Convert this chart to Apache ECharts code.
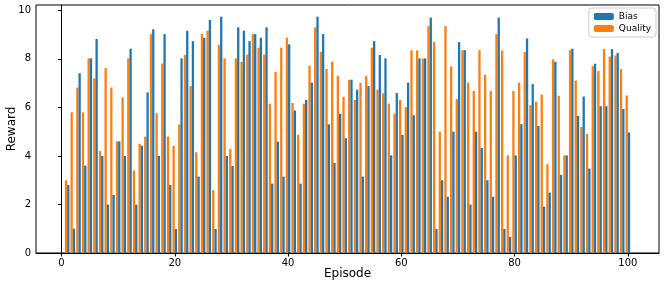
<!DOCTYPE html>
<html><head><meta charset="utf-8">
<script src="https://cdn.jsdelivr.net/npm/echarts@6/dist/echarts.min.js"></script>
<style>html,body{margin:0;padding:0;background:#fff}#c{width:665px;height:287px}</style>
</head><body><div id="c"></div>
<script>
const episodes = [1,2,3,4,5,6,7,8,9,10,11,12,13,14,15,16,17,18,19,20,21,22,23,24,25,26,27,28,29,30,31,32,33,34,35,36,37,38,39,40,41,42,43,44,45,46,47,48,49,50,51,52,53,54,55,56,57,58,59,60,61,62,63,64,65,66,67,68,69,70,71,72,73,74,75,76,77,78,79,80,81,82,83,84,85,86,87,88,89,90,91,92,93,94,95,96,97,98,99,100];
const bias = [2.8,1.0,7.41,3.6,8.02,8.82,4.0,2.0,2.39,4.6,
  4.0,8.42,2.0,4.42,6.62,9.22,4.0,9.02,2.8,0.99,
  8.02,9.16,8.73,3.15,8.87,9.6,0.99,9.74,4.0,3.59,
  9.3,9.16,8.73,9.02,8.87,9.3,2.86,4.59,3.15,8.6,
  5.87,2.86,6.31,7.02,9.74,9.02,5.3,3.71,5.74,4.73,
  7.14,6.73,3.15,6.88,8.73,8.16,8.02,4.02,6.59,4.87,
  7.02,5.68,8.02,8.02,9.7,0.99,3.0,2.32,5.0,8.69,
  8.36,2.0,5.0,4.33,3.0,2.32,9.7,0.99,0.66,4.02,
  5.31,8.84,6.96,5.23,1.91,2.49,7.88,3.22,4.02,8.42,
  5.65,6.45,3.48,7.8,6.05,6.05,8.4,8.24,5.93,4.97];
const quality = [3.0,5.8,6.82,5.8,8.02,7.2,4.2,7.62,6.82,4.6,
  6.41,8.02,3.4,4.5,4.8,9.02,5.76,7.81,4.8,4.42,
  5.3,8.16,6.88,4.15,9.02,9.16,2.59,8.58,8.02,4.29,
  8.02,7.88,8.17,9.02,8.46,8.17,6.15,7.46,8.46,8.87,
  6.18,4.87,6.15,7.72,9.3,8.29,7.58,7.88,7.3,6.44,
  7.14,6.31,7.02,7.29,8.46,6.73,6.58,6.16,5.74,6.31,
  6.01,8.35,8.35,8.02,9.35,8.69,5.0,9.35,7.69,6.35,
  8.36,7.02,6.68,8.36,7.35,6.68,9.02,8.35,4.02,6.68,
  7.02,8.28,6.09,6.23,6.53,3.66,7.98,6.48,4.02,8.36,
  7.11,5.19,4.91,7.7,7.5,8.4,8.1,8.14,7.58,6.49];
const xTicks = [0,20,40,60,80,100];
const yTicks = [0,2,4,6,8,10];

const font = 'DejaVu Sans';
const chart = echarts.init(document.getElementById('c'), null, {renderer:'canvas'});
const pair = (arr) => episodes.map((e,i)=>[e, arr[i]]);
chart.setOption({
  animation:false,
  grid:{left:36, right:6, top:5, bottom:34, outerBoundsMode:'none', containLabel:false, show:true, borderColor:'#000', borderWidth:1, backgroundColor:'transparent'},
  legend:{
    data:['Bias','Quality'], orient:'vertical', right:9, top:8,
    itemWidth:20, itemHeight:7, itemGap:3,
    textStyle:{fontFamily:font, fontSize:9, color:'#000'},
    borderColor:'#ccc', borderWidth:1, borderRadius:3, padding:[4,5,4,5],
    backgroundColor:'rgba(255,255,255,0.8)'
  },
  xAxis:{
    type:'value', min:-4.5, max:105.5,
    name:'Episode', nameLocation:'middle', nameGap:15, nameMoveOverlap:false,
    nameTextStyle:{fontFamily:font, fontSize:12, color:'#000'},
    splitLine:{show:false},
    axisLine:{show:true, lineStyle:{color:'#000', width:1}},
    axisTick:{show:true, customValues:xTicks, length:3.5, lineStyle:{color:'#000'}},
    axisLabel:{customValues:xTicks, fontFamily:font, fontSize:10, color:'#000', margin:5}
  },
  yAxis:{
    type:'value', min:0, max:10.22,
    name:'Reward', nameLocation:'middle', nameGap:18, nameRotate:90, nameMoveOverlap:false,
    nameTextStyle:{fontFamily:font, fontSize:12, color:'#000'},
    splitLine:{show:false},
    axisLine:{show:true, lineStyle:{color:'#000', width:1}},
    axisTick:{show:true, customValues:yTicks, length:3.5, lineStyle:{color:'#000'}},
    axisLabel:{customValues:yTicks, fontFamily:font, fontSize:10, color:'#000', margin:5}
  },
  series:[
    {name:'Quality', type:'bar', data:pair(quality), barWidth:2.3, barGap:'0%', itemStyle:{color:'#ff7f0e'}},
    {name:'Bias', type:'bar', data:pair(bias), barWidth:2.3, barGap:'0%', itemStyle:{color:'#1f77b4'}}
  ]
});
</script></body></html>
